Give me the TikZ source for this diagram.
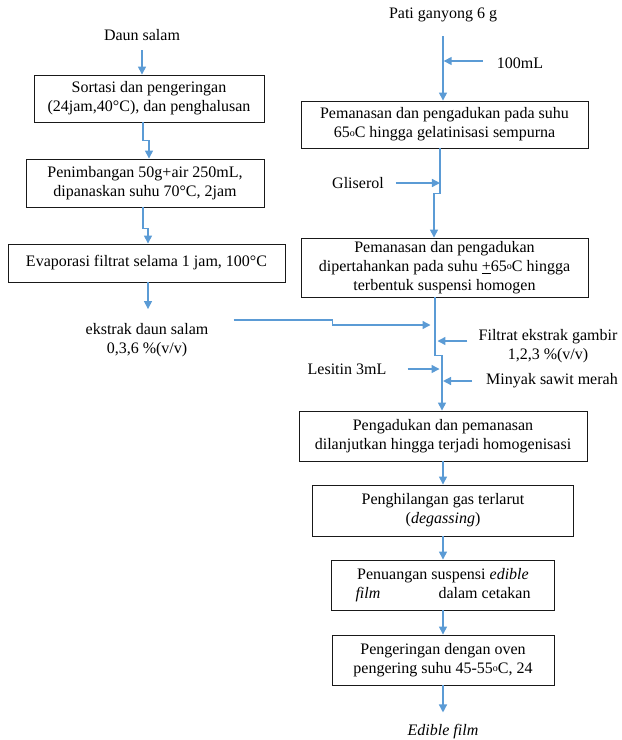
\documentclass[tikz,border=0pt]{standalone}
\usepackage{fontspec}
\setmainfont{Liberation Serif}
\usetikzlibrary{arrows.meta, positioning}
\definecolor{flowblue}{RGB}{91, 155, 213}
\newcommand{\dego}{\raisebox{1.5pt}{\fontsize{10}{10}\selectfont o}}

\begin{document}
\begin{tikzpicture}[x=1pt, y=-1pt,
  box/.style={draw=black!90, line width=0.9pt, align=center, inner sep=2pt, font=\fontsize{16}{19}\selectfont},
  lbl/.style={align=center, inner sep=2pt, font=\fontsize{16}{19}\selectfont},
  flow/.style={draw=flowblue, line width=1.4pt, -{Triangle[length=8pt,width=8pt]}}]
  \useasboundingbox (0,0) rectangle (622,740);

  % Daun salam branch
  \node[lbl] (daun) at (142,35) {Daun salam};
  \node[box, minimum width=230pt, minimum height=47pt] (sortasi) at (149,98.5) {Sortasi dan pengeringan\\(24jam,40°C), dan penghalusan};
  \node[box, minimum width=238pt, minimum height=48pt] (timbang) at (145,183) {Penimbangan 50g+air 250mL,\\dipanaskan suhu 70°C, 2jam};
  \node[box, minimum width=277pt, minimum height=38pt] (evap) at (146.5,263) {Evaporasi filtrat selama 1 jam, 100°C};
  \node[lbl] (ekstrak) at (147,340) {ekstrak daun salam\\0,3,6 \%(v/v)};

  \draw[flow] ([yshift=-15pt]daun.center) -- ([xshift=-7pt]sortasi.north);
  \draw[flow] ([xshift=-6pt]sortasi.south) -- ++(0,18) -| ([xshift=4pt]timbang.north);
  \draw[flow] ([xshift=-2pt]timbang.south) -- ++(0,21) -| ([xshift=1.5pt]evap.north);
  \draw[flow] ([xshift=1.5pt]evap.south) -- ([xshift=1pt,yshift=12pt]ekstrak.north);

  % Pati ganyong branch
  \node[lbl] (pati) at (443,15) {Pati ganyong 6 g};
  \node[lbl] (air) at (520,63) {100mL};
  \node[box, minimum width=287pt, minimum height=47pt] (gelatin) at (444.5,124.5) {Pemanasan dan pengadukan pada suhu\\65\dego C hingga gelatinisasi sempurna};
  \node[lbl] (gliserol) at (358,183) {Gliserol};
  \node[box, minimum width=287pt, minimum height=59pt] (homogen) at (444.5,267.5) {Pemanasan dan pengadukan\\dipertahankan pada suhu \underline{+}65\dego C hingga\\terbentuk suspensi homogen};

  \draw[flow] ([yshift=-21pt]pati.center) -- ([xshift=-1.5pt]gelatin.north);
  \draw[flow] ([xshift=-12pt,yshift=2pt]air.west) -- ++(-39,0);
  \draw[flow] ([xshift=-4.5pt]gelatin.south) -- ++(0,45) -| ([xshift=-10.5pt]homogen.north);
  \draw[flow] ([xshift=10pt]gliserol.east) -- ++(44,0);

  % Additives
  \node[lbl] (filtrat) at (548,346) {Filtrat ekstrak gambir\\1,2,3 \%(v/v)};
  \node[lbl] (lesitin) at (347,369) {Lesitin 3mL};
  \node[lbl] (minyak) at (552,381) {Minyak sawit merah};

  % Final steps
  \node[box, minimum width=288pt, minimum height=50pt] (aduk) at (443,436) {Pengadukan dan pemanasan\\dilanjutkan hingga terjadi homogenisasi};
  \node[box, minimum width=261pt, minimum height=51pt] (degas) at (443,510.5) {Penghilangan gas terlarut\\(\emph{degassing})};
  \node[box, minimum width=223pt, minimum height=50pt] (tuang) at (443,585) {Penuangan suspensi \emph{edible}\\\makebox[175pt]{\emph{film}\hfill dalam cetakan}};
  \node[box, minimum width=222pt, minimum height=50pt] (oven) at (443,660) {Pengeringan dengan oven\\pengering suhu 45-55\dego C, 24};
  \node[lbl] (film) at (443,732) {\emph{Edible film}};

  \draw[flow] ([xshift=-9.5pt]homogen.south) -- ++(0,58) -| ([xshift=-1pt]aduk.north);
  \draw[flow] ([xshift=23pt,yshift=20pt]ekstrak.east) -- ++(99,0) -- ++(0,5) -- ++(98,0);
  \draw[flow] ([xshift=-9pt,yshift=5pt]filtrat.west) -- ++(-30,0);
  \draw[flow] ([xshift=19pt]lesitin.east) -- ++(32,0);
  \draw[flow] ([xshift=-12pt]minyak.west) -- ++(-29,0);

  \draw[flow] (aduk.south) -- (degas.north);
  \draw[flow] (degas.south) -- (tuang.north);
  \draw[flow] (tuang.south) -- (oven.north);
  \draw[flow] (oven.south) -- ([yshift=10pt]film.north);
\end{tikzpicture}
\end{document}
